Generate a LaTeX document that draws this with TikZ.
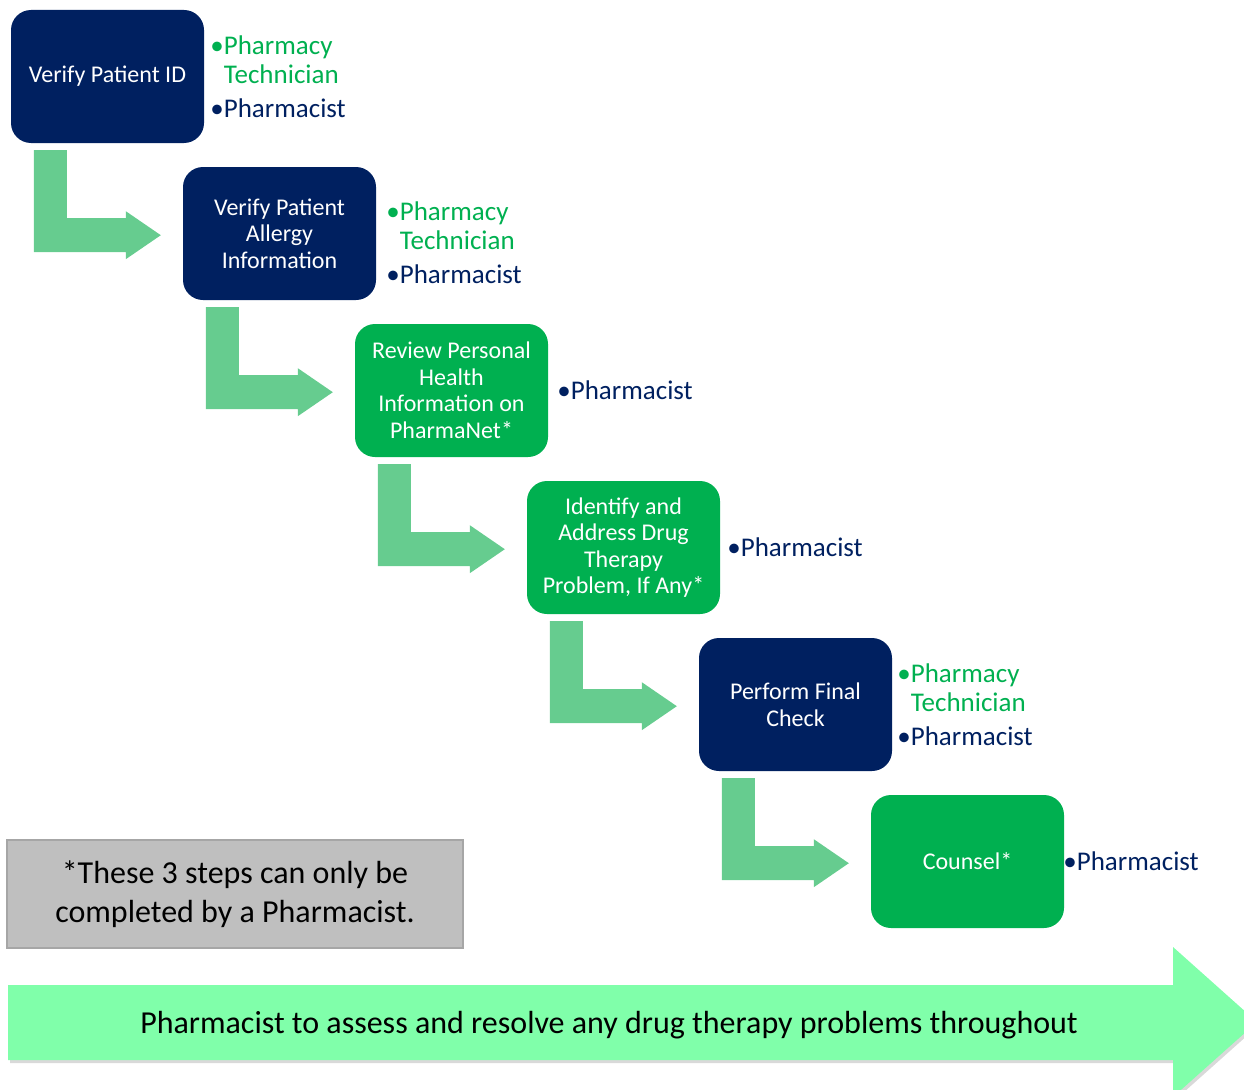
\documentclass[tikz,border=0pt]{standalone}
\usepackage{fontspec}
\setmainfont{Carlito}
\usetikzlibrary{positioning,calc,shadows}
\definecolor{navy}{HTML}{002060}
\definecolor{leaf}{HTML}{00B050}
\definecolor{bendgreen}{RGB}{102,204,143}
\definecolor{mint}{RGB}{128,255,170}
\newcommand\techrole{\textcolor{leaf}{\textbullet Pharmacy}\\\textcolor{leaf}{\phantom{\textbullet}Technician}\\[4pt]}
\newcommand\pharmrole{\textcolor{navy}{\textbullet Pharmacist}}
\begin{document}
\begin{tikzpicture}[x=1pt,y=-1pt,
	box/.style={rounded corners=20pt,minimum width=193pt,minimum height=133pt,inner sep=0pt,
		align=center,text=white,font=\fontsize{24}{26.5}\selectfont},
	navybox/.style={box,fill=navy},
	greenbox/.style={box,fill=leaf},
	role/.style={align=left,inner sep=0pt,font=\fontsize{27}{29.5}\selectfont},
	bendarrow/.style={fill=bendgreen},
	note/.style={fill={rgb,255:red,191;green,191;blue,191},draw={rgb,255:red,166;green,166;blue,166},
		line width=2pt,minimum width=456pt,minimum height=108pt,align=center,font=\fontsize{32}{39}\selectfont}]
	\clip (0,0) rectangle (1244,1089);
	\node[navybox] (s1) at (107.5,76.5) {Verify Patient ID};
	\node[navybox,below right=23.6pt and -21.4pt of s1] (s2) {Verify Patient\\Allergy\\Information};
	\node[greenbox,below right=23.6pt and -21.4pt of s2] (s3) {Review Personal\\Health\\Information on\\PharmaNet*};
	\node[greenbox,below right=23.6pt and -21.4pt of s3] (s4) {Identify and\\Address Drug\\Therapy\\Problem, If Any*};
	\node[navybox,below right=23.6pt and -21.4pt of s4] (s5) {Perform Final\\Check};
	\node[greenbox,below right=23.6pt and -21.4pt of s5] (s6) {Counsel*};
	\node[role,right=6pt of s1] (r1) {\techrole\pharmrole};
	\node[role,right=10pt of s2,yshift=-9pt] (r2) {\techrole\pharmrole};
	\node[role,right=9pt of s3] (r3) {\pharmrole};
	\node[role,right=7pt of s4] (r4) {\pharmrole};
	\node[role,right=5pt of s5] (r5) {\techrole\pharmrole};
	\node[role,right=-1pt of s6] (r6) {\pharmrole};
	\foreach \a in {s1,s2,s3,s4,s5}
		\fill[bendarrow] ($(\a.south west)+(23,7)$) -- ++(33,0) -- ++(0,68) -- ++(59,0) -- ++(0,-7)
		-- ++(35,24) -- ++(-35,24) -- ++(0,-7) -- ++(-92,0) -- cycle;
	\node[note] (note) at (235,894) {*These 3 steps can only be\\completed by a Pharmacist.};
	\fill[mint,drop shadow={opacity=0.3,shadow xshift=2pt,shadow yshift=-3pt}]
		(8,985) -- (1173,985) -- (1173,947) -- (1257,1022) -- (1173,1097) -- (1173,1060) -- (8,1060) -- cycle;
	\node[font=\fontsize{32}{36}\selectfont] (banner) at (609,1025) {Pharmacist to assess and resolve any drug therapy problems throughout};
\end{tikzpicture}
\end{document}
